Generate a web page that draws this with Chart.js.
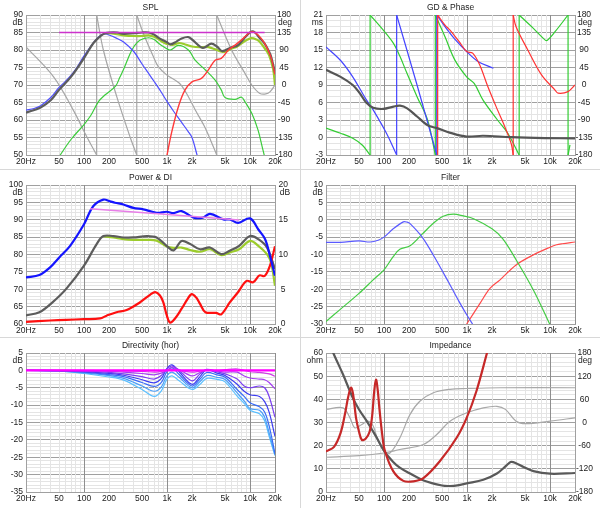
<!DOCTYPE html>
<html>
<head>
<meta charset="utf-8">
<script src="https://cdn.jsdelivr.net/npm/chart.js@4.4.1/dist/chart.umd.min.js"></script>
<style>
  body { margin: 0; background: #fff; }
  #wrap { position: relative; width: 600px; height: 508px; overflow: hidden; background: #fff; }
  .p { position: absolute; width: 300px; background: #fff; }
  .p canvas { display: block; }
  .hl { position: absolute; left: 0; width: 600px; height: 1px; background: #d8d8d8; }
  .vl { position: absolute; left: 300px; top: 0; width: 1px; height: 508px; background: #d8d8d8; }
</style>
</head>
<body>
<div id="wrap">
  <div class="p" style="left:0;top:0"><canvas id="spl" width="300" height="169"></canvas></div>
  <div class="p" style="left:300px;top:0"><canvas id="gd" width="300" height="169"></canvas></div>
  <div class="p" style="left:0;top:170px"><canvas id="pwr" width="300" height="167"></canvas></div>
  <div class="p" style="left:300px;top:170px"><canvas id="flt" width="300" height="167"></canvas></div>
  <div class="p" style="left:0;top:338px"><canvas id="dir" width="300" height="170"></canvas></div>
  <div class="p" style="left:300px;top:338px"><canvas id="imp" width="300" height="170"></canvas></div>
  <div class="hl" style="top:169px"></div>
  <div class="hl" style="top:337px"></div>
  <div class="vl"></div>
</div>
<script>
// ---- axis ticks ----
const FREQ_TICKS = [20, 30, 40, 50, 60, 70, 80, 90, 100, 200, 300, 400, 500, 600, 700, 800, 900,
  1000, 2000, 3000, 4000, 5000, 6000, 7000, 8000, 9000, 10000, 20000];
const FREQ_LABEL_VALUES = [20, 50, 100, 200, 500, 1000, 2000, 5000, 10000, 20000];
const FREQ_LABEL_TEXT = ['20Hz', '50', '100', '200', '500', '1k', '2k', '5k', '10k', '20k'];
const FREQ_DARK = [100, 1000, 10000, 20000];
const DEG_LABELS = [-180, -135, -90, -45, 0, 45, 90, 135, 180];
const SPL_LABELS = [50, 55, 60, 65, 70, 75, 80, 85, 90];
const GD_LABELS = [-3, 0, 3, 6, 9, 12, 15, 18, 21];
const PWR_LABELS = [60, 65, 70, 75, 80, 85, 90, 95, 100];
const DI_LABELS = [0, 5, 10, 15, 20];
const FLT_LABELS = [-30, -25, -20, -15, -10, -5, 0, 5, 10];
const DIR_LABELS = [-35, -30, -25, -20, -15, -10, -5, 0, 5];
const OHM_LABELS = [0, 10, 20, 30, 40, 50, 60];
const IMP_DEG_LABELS = [-180, -120, -60, 0, 60, 120, 180];

// ---- SPL ----
const splTotalF  = [20, 30, 40, 50, 70, 100, 130, 160, 180, 200, 250, 300, 400, 500, 600, 700, 800, 1000, 1100, 1300, 1500, 1800, 2000, 2700, 3400, 4000, 4600, 6000, 7000, 8000, 9000, 10400, 11500, 13000, 15000, 17000, 18000, 20000];
const splTotalDb = [62.1, 63.6, 65.7, 68.6, 72.4, 77.7, 82.0, 84.1, 84.8, 85.0, 85.0, 84.6, 84.8, 85.0, 85.0, 84.4, 83.4, 82.2, 81.6, 82.4, 83.3, 83.7, 83.0, 80.6, 81.8, 81.0, 79.7, 80.8, 81.2, 82.6, 84.0, 85.3, 85.0, 83.5, 81.8, 79.5, 78.0, 73.5];
const splOliveF  = [180, 200, 250, 300, 400, 500, 600, 700, 800, 900, 1000, 1200, 1400, 1700, 2000, 2500, 3000, 3500, 4000, 4600, 5000, 6000, 7000, 8000, 9000, 10400, 12000, 13000, 15000, 17000, 19000, 20000];
const splOliveDb = [84.8, 84.8, 84.5, 84.2, 84.0, 84.0, 84.2, 83.8, 83.0, 82.2, 81.7, 81.5, 82.0, 81.5, 81.0, 80.8, 80.9, 80.5, 80.0, 79.5, 79.5, 80.4, 81.0, 82.0, 82.8, 83.4, 83.0, 82.4, 80.5, 78.5, 74.5, 70.0];
const splBlueF   = [20, 25, 30, 40, 50, 60, 70, 80, 100, 120, 150, 175, 200, 250, 300, 400, 500, 600, 700, 850, 1000, 1200, 1500, 1800, 2000, 2300, 2500];
const splBlueDb  = [62.8, 63.3, 64.1, 66.5, 69.3, 71.1, 72.8, 74.6, 78.3, 81.0, 83.7, 84.6, 84.3, 83.3, 82.3, 79.5, 76.0, 73.3, 71.0, 68.0, 65.3, 62.5, 59.3, 56.7, 55.0, 50.0, 47.0];
const splGreenF  = [45, 50, 70, 100, 120, 150, 180, 240, 270, 300, 360, 400, 470, 600, 700, 785, 900, 1090, 1370, 1810, 2180, 2900, 3800, 4500, 5000, 6600, 7900, 8700, 10500, 12500, 14000, 15000, 16000];
const splGreenDb = [48.0, 49.5, 54.5, 58.7, 61.2, 65.3, 67.2, 69.7, 72.2, 74.5, 79.0, 81.0, 82.8, 83.5, 83.0, 82.0, 81.0, 80.0, 81.3, 80.0, 77.1, 74.3, 71.4, 68.6, 66.4, 65.9, 66.5, 65.2, 61.9, 57.1, 52.4, 49.5, 47.0];
const splRedF    = [900, 990, 1130, 1370, 1650, 2000, 2600, 3150, 3800, 4500, 5500, 6600, 7900, 10400, 12500, 15000, 17800, 20000];
const splRedDb   = [45.0, 49.5, 56.2, 63.8, 68.6, 70.9, 71.9, 74.3, 77.1, 77.6, 80.0, 81.4, 82.9, 85.2, 84.3, 81.9, 78.1, 73.0];
const splTargetF  = [50, 15000];
const splTargetDb = [85, 85];
const splPhaseF   = [20, 43, 74, 108, 142, 142, 171, 248, 358, 432, 432, 518, 684, 785, 990, 1400, 1700, 2200, 2800, 3400, 3970, 3970, 6000, 8700, 10500, 13000, 15500, 17500, 20000];
const splPhaseDeg = [98, 21, -64, -133, -180, 180, 90, -30, -133, -180, 180, 133, 73, 47, 26, 5, -20, -65, -105, -145, -180, 180, 90, 30, 0, -21, -23, -17, 0];

// ---- GD & Phase ----
const gdF  = [20, 30, 42, 51, 61, 74, 98, 130, 156, 190, 250, 335, 434, 630, 990, 1560, 3400, 8700, 20000];
const gdMs = [11.6, 10.4, 9.0, 7.6, 6.0, 5.1, 4.9, 5.3, 5.45, 5.0, 3.6, 2.1, 1.6, 0.8, 0.15, 0.3, 0.05, -0.1, -0.15];
const gdBlueF    = [20, 30, 42, 60, 74, 107, 142, 142, 250, 432, 432, 543, 700, 990, 1370, 2080];
const gdBlueDeg  = [98, 63, 21, -35, -64, -124, -180, 180, 0, -180, 180, 150, 120, 86, 60, 43];
const gdGreenF   = [20, 30, 42, 55, 68, 68, 98, 130, 156, 189, 250, 335, 415, 415, 543, 715, 990, 1220, 1560, 2330, 3100, 4250, 4250, 6000, 8700, 9300, 11500, 16500, 16500, 17400];
const gdGreenDeg = [-111, -124, -137, -155, -180, 180, 141, 107, 73, 30, -30, -90, -180, 180, 124, 64, 21, 4, -39, -90, -124, -180, 180, 150, 116, 115, 137, 180, -180, -154];
const gdRedF     = [443, 443, 543, 624, 800, 990, 1170, 1420, 1780, 2330, 2800, 3400, 3600, 3600, 3900, 5400, 7900, 11500, 12500, 16500, 20000];
const gdRedDeg   = [-180, 180, 154, 141, 112, 86, 82, 52, -4, -64, -103, -150, -180, 180, 150, 90, 26, -13, -21, -17, 0];

// ---- Power & DI ----
const pwrBlueF   = [20, 29, 39, 50, 68, 100, 129, 171, 206, 236, 298, 393, 517, 750, 990, 1200, 1500, 2100, 2700, 3300, 4800, 5700, 7200, 10000, 12600, 15200, 17400, 20000];
const pwrBlueDb  = [73.4, 74.1, 76.3, 79.1, 82.5, 88.7, 93.9, 95.8, 95.3, 94.9, 94.4, 93.4, 93.0, 92.0, 92.3, 91.9, 92.5, 90.6, 90.6, 91.7, 90.1, 90.1, 89.1, 90.4, 87.2, 84.4, 79.6, 73.9];
const pwrTrendF  = [118, 7400];
const pwrTrendDb = [93.2, 89.9];
const pwrGreyF   = [20, 29, 42, 61, 100, 142, 171, 226, 298, 393, 570, 750, 990, 1200, 1500, 1900, 2500, 3300, 4500, 5700, 7400, 10000, 12600, 16000, 20000];
const pwrGreyDb  = [62.5, 63.4, 66.3, 70.1, 76.8, 83.0, 85.3, 85.3, 84.9, 84.9, 85.3, 84.9, 82.5, 81.2, 83.9, 83.0, 81.5, 82.0, 80.1, 81.1, 82.5, 85.3, 84.4, 82.0, 75.8];
const pwrOliveF  = [171, 226, 298, 393, 570, 750, 990, 1200, 1500, 1900, 2500, 3300, 4500, 5700, 7400, 10000, 12600, 16000, 18000, 20000];
const pwrOliveDb = [85.3, 84.9, 84.4, 84.2, 84.2, 84.0, 82.3, 81.9, 82.0, 81.3, 80.8, 81.5, 79.8, 80.6, 81.5, 83.9, 82.5, 80.1, 77.5, 71.0];
const diF  = [20, 39, 61, 100, 156, 187, 246, 326, 470, 624, 720, 822, 903, 990, 1090, 1250, 1500, 1750, 1980, 2250, 2500, 2900, 3900, 4500, 5700, 7200, 9100, 10900, 13000, 15000, 17400, 20000];
const diDb = [0.3, 0.5, 0.6, 0.7, 0.8, 1.2, 1.7, 2.0, 3.1, 4.2, 4.6, 4.1, 3.1, 1.3, 0.2, 0.8, 2.2, 3.5, 4.3, 3.8, 2.9, 1.7, 1.6, 1.4, 3.1, 4.6, 6.2, 6.0, 7.0, 6.9, 8.4, 11.2];

// ---- Filter ----
const fltBlueF   = [20, 30, 50, 68, 85, 100, 129, 171, 190, 206, 284, 400, 600, 800, 1000, 1200];
const fltBlueDb  = [-6.5, -6.5, -6.1, -6.4, -5.9, -5.0, -2.6, -0.6, -0.7, -1.1, -4.8, -10.5, -18.0, -23.5, -27.5, -30.5];
const fltGreenF  = [20, 29, 50, 74, 100, 129, 155, 206, 284, 393, 517, 684, 900, 1200, 2000, 2700, 3900, 6300, 10000];
const fltGreenDb = [-29.3, -26.0, -21.2, -17.3, -14.4, -10.6, -8.5, -7.5, -4.3, -1.0, 1.0, 1.6, 1.1, 0.3, -2.6, -5.5, -11.5, -20.2, -30.2];
const fltRedF    = [990, 1440, 1900, 2500, 3900, 6300, 10000, 12000, 14000, 20000];
const fltRedDb   = [-30.0, -24.0, -19.7, -17.3, -13.0, -10.1, -7.9, -7.2, -6.9, -6.4];

// ---- Directivity (hor) ----
const dirF = [20, 50, 100, 200, 300, 500, 700, 850, 1000, 1150, 1400, 2000, 2500, 3000, 4000, 5000, 7000, 8500, 10000, 13000, 15000, 17000, 20000];
const dirOnF  = [20, 20000];
const dirOnDb = [0, 0];
const dir1 = [0, 0, 0, -0.1, -0.2, -0.3, -0.5, -0.3, 0, 0.2, 0, -0.5, -0.2, 0, 0, 0.2, 0.4, 0, -0.4, -0.6, -0.8, -1.0, -1.7];
const dir2 = [0, 0, -0.1, -0.3, -0.5, -0.9, -1.3, -0.8, 0, 0.8, 0.2, -1.6, -0.6, 0.2, -0.2, -0.5, -0.5, -1.6, -2.2, -2.5, -2.7, -3.5, -5.3];
const dir3 = [0, -0.05, -0.2, -0.6, -1.0, -1.8, -2.5, -1.5, 0.5, 1.3, 0, -3.0, -1.0, 0.3, -0.4, -1.0, -2.5, -4.5, -5.0, -4.5, -5.0, -7.5, -13.5];
const dir4 = [0, -0.1, -0.35, -0.9, -1.4, -2.7, -3.6, -2.4, 0.6, 1.6, -0.4, -4.0, -1.8, 0.2, -0.8, -1.5, -4.0, -6.0, -7.0, -7.5, -9.0, -12.0, -19.0];
const dir5 = [0, -0.15, -0.5, -1.2, -1.8, -3.5, -4.6, -3.5, -0.3, 0.8, -1.2, -4.5, -2.5, -0.6, -1.3, -2.0, -5.5, -7.5, -9.3, -10.5, -12.0, -16.0, -24.0];
const dir6 = [0, -0.2, -0.7, -1.5, -2.3, -4.5, -6.0, -4.8, -1.5, -0.5, -2.0, -5.0, -3.2, -1.5, -2.0, -2.6, -6.5, -8.8, -11.0, -11.5, -13.5, -18.0, -24.3];
const dir7 = [0, -0.25, -0.9, -1.9, -2.8, -5.5, -7.5, -6.0, -2.5, -1.6, -3.0, -5.5, -4.0, -2.3, -2.6, -3.3, -7.4, -9.5, -11.5, -12.5, -14.5, -19.0, -24.5];
const dirColors = ['#d23be8', '#a53cf2', '#7a3ff0', '#3c3cf0', '#3a6cf6', '#4a9ef8', '#5cc0ff'];

// ---- Impedance ----
const impTotF   = [20, 24.5, 32, 42, 50, 62, 80, 100, 129, 155, 200, 300, 500, 624, 800, 990, 1570, 2290, 3000, 3400, 4000, 4800, 6300, 10000, 20000];
const impTotOhm = [68, 60, 50.8, 40.7, 35.6, 30.6, 24, 17.8, 13, 10.5, 8.2, 5, 2.8, 2.6, 3, 3.7, 5.3, 8, 11.5, 13, 12.2, 10.8, 9, 7.9, 8.2];
const impRedF   = [20, 25, 30, 34, 37, 40, 42.5, 46, 50, 54, 60, 67, 72, 76, 80, 84, 88, 95, 102, 129, 171, 226, 298, 470, 750, 990, 1300, 1740, 2000];
const impRedOhm = [17.5, 19.5, 25.5, 34, 41, 45, 42, 32, 26, 22.5, 23, 26, 33, 43, 48.5, 44, 36, 25, 18, 9, 4.8, 4.6, 6, 13.3, 23.4, 32, 43.6, 60, 68];
const impPhAF   = [20, 32, 38.9, 44.6, 54, 64, 74, 85, 100, 118, 155, 206, 270, 393, 624, 990, 2500, 20000];
const impPhADeg = [34, 38, 12, -14, -5, 3.5, -9, -48, -74, -79, -40, 21, 55, 77, 86, 88, 90, 90];
const impPhBF   = [20, 50, 100, 155, 298, 432, 624, 990, 1570, 2290, 2900, 3900, 5100, 10000, 20000];
const impPhBDeg = [-90, -86, -79, -70, -57, -31, 3.5, 25, 38, 42, 34, 3.5, -3, 3.5, 12];

// ---- common stuff ----
const FONT = '"Liberation Sans", Arial, sans-serif';
const MAJOR = '#a0a0a0';
const DECADE = '#8e8e8e';
const MINOR = '#e4e4e4';
Chart.defaults.font.family = FONT;
Chart.defaults.font.size = 8.5;
Chart.defaults.color = '#222';
Chart.defaults.animation = false;

function freqAxis(h) {
  return {
    type: 'logarithmic', position: 'bottom', min: 20, max: 20000,
    afterBuildTicks: s => { s.ticks = FREQ_TICKS.map(v => ({ value: v })); },
    afterFit: s => { s.height = h; },
    ticks: {
      autoSkip: false, maxRotation: 0, padding: 2,
      callback: v => { const i = FREQ_LABEL_VALUES.indexOf(v); return i < 0 ? '' : FREQ_LABEL_TEXT[i]; }
    },
    grid: { drawTicks: false, color: c => (c.tick && FREQ_DARK.includes(c.tick.value)) ? DECADE : MINOR },
    border: { color: MAJOR }
  };
}

function leftAxis(min, max, minor, labels) {
  return {
    type: 'linear', position: 'left', min, max,
    afterBuildTicks: s => {
      const t = [];
      for (let v = min; v <= max + 1e-9; v += minor) t.push({ value: Math.round(v * 1000) / 1000 });
      s.ticks = t;
    },
    afterFit: s => { s.width = 26; },
    ticks: { autoSkip: false, padding: 3, callback: v => labels.includes(v) ? String(v) : '' },
    grid: { drawTicks: false, color: c => (c.tick && labels.includes(c.tick.value)) ? MAJOR : MINOR },
    border: { color: MAJOR }
  };
}

function rightAxis(min, max, labels, pad) {
  return {
    type: 'linear', position: 'right', min, max,
    afterBuildTicks: s => { s.ticks = labels.map(v => ({ value: v })); },
    afterFit: s => { s.width = 25; },
    ticks: { autoSkip: false, padding: pad, crossAlign: 'center', callback: v => String(v) },
    grid: { drawOnChartArea: false, drawTicks: false },
    border: { color: MAJOR }
  };
}

function line(f, v, color, width, axis) {
  return {
    data: f.map((x, i) => ({ x, y: v[i] })),
    borderColor: color, borderWidth: width, yAxisID: axis || 'y',
    pointRadius: 0, tension: 0.35, fill: false
  };
}

// phase curves: split at the wraps, the wrap itself is a straight vertical
function wrapped(f, v, color, width, axis) {
  const sets = [];
  let seg = { f: [], v: [] };
  for (let i = 0; i < f.length; i++) {
    if (i > 0 && f[i] === f[i - 1]) {
      sets.push(line(seg.f, seg.v, color, width, axis));
      const w = line([f[i - 1], f[i]], [v[i - 1], v[i]], color, width, axis);
      w.tension = 0;
      sets.push(w);
      seg = { f: [], v: [] };
    }
    seg.f.push(f[i]);
    seg.v.push(v[i]);
  }
  sets.push(line(seg.f, seg.v, color, width, axis));
  return sets;
}

const panelText = {
  id: 'panelText',
  afterDraw(chart, args, o) {
    const ctx = chart.ctx, a = chart.chartArea;
    ctx.save();
    ctx.font = '8.5px ' + FONT;
    ctx.fillStyle = '#222';
    ctx.textBaseline = 'middle';
    ctx.textAlign = 'center';
    ctx.fillText(o.title, (a.left + a.right) / 2, 7.5);
    if (o.left) { ctx.textAlign = 'right'; ctx.fillText(o.left, a.left - 3, a.top + 7.5); }
    if (o.right) { ctx.textAlign = 'center'; ctx.fillText(o.right, a.right + 10, a.top + 7.5); }
    ctx.restore();
  }
};

function makeChart(id, bottom, title, units, scales, datasets, hasRight) {
  const cv = document.getElementById(id);
  scales.x = freqAxis(cv.height - bottom);
  return new Chart(cv, {
    type: 'line',
    data: { datasets },
    options: {
      responsive: false,
      layout: { padding: { top: 15, left: 0, right: hasRight ? 0 : 25, bottom: 0 } },
      scales,
      plugins: {
        legend: { display: false },
        tooltip: { enabled: false },
        panelText: { title, left: units[0], right: units[1] }
      }
    },
    plugins: [panelText]
  });
}

// SPL
makeChart('spl', 155, 'SPL', ['dB', 'deg'],
  { y: leftAxis(50, 90, 1, SPL_LABELS), y2: rightAxis(-180, 180, DEG_LABELS, 0.5) },
  [
    line(splTargetF, splTargetDb, '#cc33cc', 1.5),
    line(splRedF, splRedDb, '#ff3a3a', 1.4),
    line(splTotalF, splTotalDb, '#5c5c5c', 2.2),
    line(splOliveF, splOliveDb, '#9ccc2c', 2.2),
    line(splBlueF, splBlueDb, '#4f4fff', 1.2),
    line(splGreenF, splGreenDb, '#3ccc3c', 1.2),
    ...wrapped(splPhaseF, splPhaseDeg, '#a6a6a6', 1.2, 'y2')
  ], true);

// GD & Phase
makeChart('gd', 155, 'GD & Phase', ['ms', 'deg'],
  { y: leftAxis(-3, 21, 1, GD_LABELS), y2: rightAxis(-180, 180, DEG_LABELS, 0.5) },
  [
    line(gdF, gdMs, '#555555', 2.2),
    ...wrapped(gdRedF, gdRedDeg, '#ff3333', 1.2, 'y2'),
    ...wrapped(gdBlueF, gdBlueDeg, '#4444ff', 1.2, 'y2'),
    ...wrapped(gdGreenF, gdGreenDeg, '#33cc33', 1.2, 'y2')
  ], true);

// Power & DI
makeChart('pwr', 154, 'Power & DI', ['dB', 'dB'],
  { y: leftAxis(60, 100, 1, PWR_LABELS), y2: rightAxis(0, 20, DI_LABELS, 3.5) },
  [
    line(pwrTrendF, pwrTrendDb, '#e77ee7', 1.5),
    line(pwrBlueF, pwrBlueDb, '#1414ff', 2.2),
    line(diF, diDb, '#ff1010', 2.2, 'y2'),
    line(pwrGreyF, pwrGreyDb, '#5c5c5c', 2.2),
    line(pwrOliveF, pwrOliveDb, '#9ccc2c', 2.2)
  ], true);

// Filter
makeChart('flt', 154, 'Filter', ['dB', ''],
  { y: leftAxis(-30, 10, 1, FLT_LABELS) },
  [
    line(fltBlueF, fltBlueDb, '#5a5aff', 1.2),
    line(fltGreenF, fltGreenDb, '#44cc44', 1.2),
    line(fltRedF, fltRedDb, '#ff4a4a', 1.2)
  ], false);

// Directivity
makeChart('dir', 154, 'Directivity (hor)', ['dB', ''],
  { y: leftAxis(-35, 5, 1, DIR_LABELS) },
  [
    line(dirOnF, dirOnDb, '#ff00ff', 2.2),
    ...[dir1, dir2, dir3, dir4, dir5, dir6, dir7].map((d, i) => line(dirF, d, dirColors[i], 1.2))
  ], false);

// Impedance
makeChart('imp', 154, 'Impedance', ['ohm', 'deg'],
  { y: leftAxis(0, 60, 2, OHM_LABELS), y2: rightAxis(-180, 180, IMP_DEG_LABELS, 1) },
  [
    line(impRedF, impRedOhm, '#c62828', 2.2),
    line(impTotF, impTotOhm, '#595959', 2.2),
    line(impPhAF, impPhADeg, '#a8a8a8', 1.2, 'y2'),
    line(impPhBF, impPhBDeg, '#a8a8a8', 1.2, 'y2')
  ], true);
</script>
</body>
</html>
